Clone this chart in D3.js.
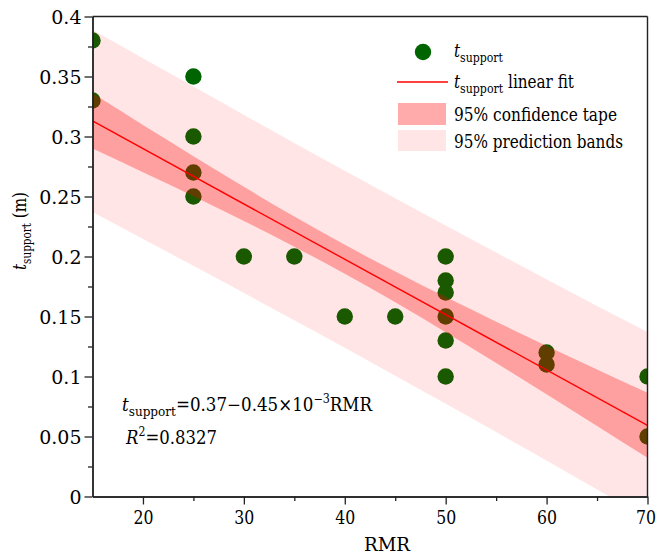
<!DOCTYPE html>
<html>
<head>
<meta charset="utf-8">
<script src="https://cdn.jsdelivr.net/npm/d3@7"></script>
<style>
  html, body { margin: 0; padding: 0; background: #fff; }
  svg, svg text { font-family: "DejaVu Serif", serif; }
</style>
</head>
<body>
<svg id="chart" width="658" height="557"></svg>
<script>
// Measured support thickness against RMR
const rmr      = [15, 15, 25, 25, 25, 25, 30, 35, 40, 45, 50, 50, 50, 50, 50, 50, 60, 60, 70, 70];
const tSupport = [0.38, 0.33, 0.35, 0.30, 0.27, 0.25, 0.20, 0.20, 0.15, 0.15,
                  0.20, 0.18, 0.17, 0.15, 0.13, 0.10, 0.12, 0.11, 0.10, 0.05];

// Linear fit line end values
const fitX = [15, 70];
const fitY = [0.313, 0.0593];

// 95% confidence and prediction band edges
const bandX    = [15, 25, 35, 40, 45, 55, 65, 70];
const confLow  = [0.290, 0.2502, 0.2082, 0.1857, 0.1619, 0.1113, 0.0588, 0.0322];
const confHigh = [0.336, 0.2836, 0.2333, 0.2097, 0.1874, 0.1457, 0.1058, 0.0864];
const predLow  = [0.237, 0.1922, 0.1468, 0.1239, 0.1007, 0.0537, 0.0058, -0.0184];
const predHigh = [0.389, 0.3416, 0.2946, 0.2715, 0.2485, 0.2033, 0.1588, 0.1370];

// Axis ticks
const xMajor = [20, 30, 40, 50, 60, 70];
const xMinor = [25, 35, 45, 55, 65];
const yMajor = [0, 0.05, 0.1, 0.15, 0.2, 0.25, 0.3, 0.35, 0.4];
const yLabels = ["0", "0.05", "0.1", "0.15", "0.2", "0.25", "0.3", "0.35", "0.4"];
const yMinor = [0.025, 0.075, 0.125, 0.175, 0.225, 0.275, 0.325, 0.375];

const FONT = "'DejaVu Serif', serif";

const svg = d3.select("#chart").attr("font-family", FONT);
const L = 92.5, R = 647.5, T = 16.5, B = 496.5;

const x = d3.scaleLinear().domain([15, 70]).range([L, R]);
const y = d3.scaleLinear().domain([0, 0.4]).range([B, T]);

// squeeze a text run to a set advance width
const fit = (sel, w) => sel.attr("textLength", w).attr("lengthAdjust", "spacingAndGlyphs");

svg.append("defs").append("clipPath").attr("id", "plotClip")
  .append("rect").attr("x", L).attr("y", T).attr("width", R - L).attr("height", B - T);

const plot = svg.append("g").attr("clip-path", "url(#plotClip)");

// Points sit beneath the translucent bands
plot.selectAll("circle.pt")
  .data(rmr.map((d, i) => [d, tSupport[i]]))
  .join("circle")
  .attr("class", "pt")
  .attr("cx", d => x(d[0]))
  .attr("cy", d => y(d[1]))
  .attr("r", 8.2)
  .attr("fill", "#006400");

const bandRows = bandX.map((d, i) => ({x: d, cl: confLow[i], ch: confHigh[i], pl: predLow[i], ph: predHigh[i]}));

const predArea = d3.area().curve(d3.curveMonotoneX)
  .x(d => x(d.x)).y0(d => y(d.pl)).y1(d => y(d.ph));
const confArea = d3.area().curve(d3.curveMonotoneX)
  .x(d => x(d.x)).y0(d => y(d.cl)).y1(d => y(d.ch));

plot.append("path").datum(bandRows).attr("d", predArea)
  .attr("fill", "rgba(255,0,0,0.1)");
plot.append("path").datum(bandRows).attr("d", confArea)
  .attr("fill", "rgba(255,0,0,0.3)");

// Fitted line
plot.append("path")
  .datum(fitX.map((d, i) => [d, fitY[i]]))
  .attr("d", d3.line().x(d => x(d[0])).y(d => y(d[1])))
  .attr("fill", "none").attr("stroke", "#ff0000").attr("stroke-width", 1.4);

// Axes with major and minor ticks
const axisColor = "#222";
const xAxis = svg.append("g").attr("transform", `translate(0,${B})`)
  .call(d3.axisBottom(x).tickValues(xMajor).tickFormat(d3.format("d")).tickSize(8).tickSizeOuter(0));
const xAxisMinor = svg.append("g").attr("transform", `translate(0,${B})`)
  .call(d3.axisBottom(x).tickValues(xMinor).tickFormat("").tickSize(4.5).tickSizeOuter(0));
const yAxis = svg.append("g").attr("transform", `translate(${L},0)`)
  .call(d3.axisLeft(y).tickValues(yMajor).tickFormat((d, i) => yLabels[i]).tickSize(8).tickSizeOuter(0));
const yAxisMinor = svg.append("g").attr("transform", `translate(${L},0)`)
  .call(d3.axisLeft(y).tickValues(yMinor).tickFormat("").tickSize(4.5).tickSizeOuter(0));

[xAxis, xAxisMinor, yAxis, yAxisMinor].forEach(g => {
  g.attr("font-family", FONT).attr("font-size", 19);
  g.select(".domain").attr("stroke", axisColor).attr("stroke-width", 1.4);
  g.selectAll(".tick line").attr("stroke", axisColor).attr("stroke-width", 1.3);
  g.selectAll(".tick text").attr("fill", "#000");
});
fit(xAxis.selectAll(".tick text").attr("dy", "0.95em").attr("y", 9), 20);
// keep the last label inside the page edge
xAxis.selectAll(".tick text").filter(d => d === 70).attr("x", -2);
yAxis.selectAll(".tick text").attr("x", -11).attr("dy", "0.36em");

// Frame top and right
svg.append("line").attr("x1", L).attr("x2", R).attr("y1", T).attr("y2", T)
  .attr("stroke", axisColor).attr("stroke-width", 1.4);
svg.append("line").attr("x1", R).attr("x2", R).attr("y1", T).attr("y2", B)
  .attr("stroke", axisColor).attr("stroke-width", 1.4);

// Axis titles
fit(svg.append("text").attr("x", 387).attr("y", 551).attr("text-anchor", "middle")
  .attr("font-size", 19).text("RMR"), 46);

const yTitle = svg.append("text")
  .attr("transform", "translate(26,231) rotate(-90)")
  .attr("text-anchor", "middle").attr("font-size", 19);
yTitle.append("tspan").attr("font-style", "italic").text("t");
yTitle.append("tspan").attr("font-size", 13).attr("dy", 5).text("support");
yTitle.append("tspan").attr("dy", -5).text(" (m)");
fit(yTitle, 78);

// Fit equation and R²
const eq = svg.append("text").attr("x", 122).attr("y", 411).attr("font-size", 18);
eq.append("tspan").attr("font-style", "italic").text("t");
eq.append("tspan").attr("font-size", 13).attr("dy", 5).text("support");
eq.append("tspan").attr("dy", -5).text("=0.37\u22120.45\u00d710");
eq.append("tspan").attr("font-size", 12).attr("dy", -8).text("\u22123");
eq.append("tspan").attr("dy", 8).text("RMR");
fit(eq, 250);

const r2 = svg.append("text").attr("x", 126).attr("y", 444).attr("font-size", 18);
r2.append("tspan").attr("font-style", "italic").text("R");
r2.append("tspan").attr("font-size", 12).attr("dy", -8).text("2");
r2.append("tspan").attr("dy", 8).text("=0.8327");
fit(r2, 91);

// Legend
const lg = svg.append("g");
lg.append("circle").attr("cx", 423).attr("cy", 52).attr("r", 8.2).attr("fill", "#006400");
lg.append("line").attr("x1", 397).attr("x2", 448).attr("y1", 82).attr("y2", 82)
  .attr("stroke", "#ff0000").attr("stroke-width", 1.4);
lg.append("rect").attr("x", 398).attr("y", 103).attr("width", 48).attr("height", 22)
  .attr("fill", "rgba(255,0,0,0.33)");
lg.append("rect").attr("x", 398).attr("y", 130).attr("width", 48).attr("height", 21)
  .attr("fill", "rgba(255,0,0,0.1)");

const lt1 = lg.append("text").attr("x", 454).attr("y", 57).attr("font-size", 18);
lt1.append("tspan").attr("font-style", "italic").text("t");
lt1.append("tspan").attr("font-size", 13).attr("dy", 5).text("support");
fit(lt1, 49);

const lt2 = lg.append("text").attr("x", 454).attr("y", 88).attr("font-size", 18);
lt2.append("tspan").attr("font-style", "italic").text("t");
lt2.append("tspan").attr("font-size", 13).attr("dy", 5).text("support");
lt2.append("tspan").attr("dy", -5).text(" linear fit");
fit(lt2, 120);

fit(lg.append("text").attr("x", 454).attr("y", 121).attr("font-size", 18).text("95% confidence tape"), 163);
fit(lg.append("text").attr("x", 454).attr("y", 148).attr("font-size", 18).text("95% prediction bands"), 169);
</script>
</body>
</html>
